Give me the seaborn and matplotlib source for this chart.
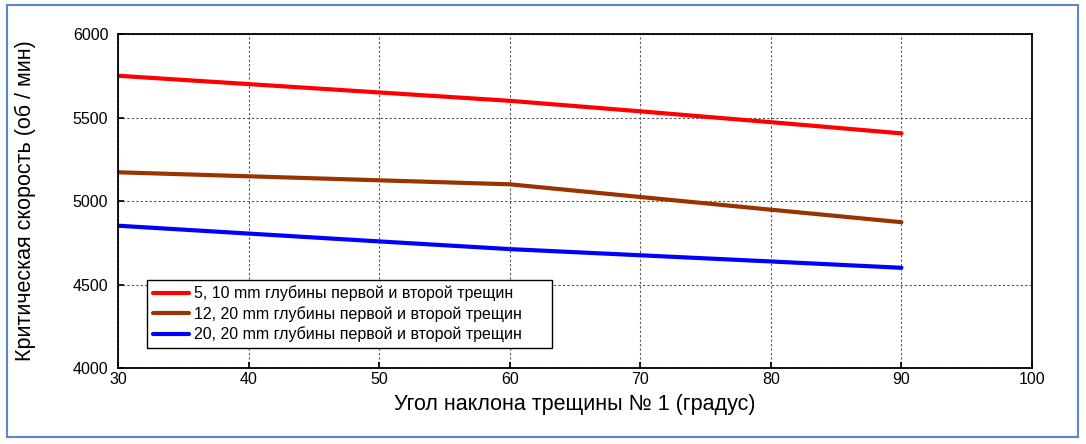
import matplotlib
matplotlib.use("Agg")
import matplotlib.pyplot as plt
import seaborn as sns
import pandas as pd
from matplotlib.patches import Rectangle

angles = [30, 40, 50, 60, 70, 80, 90]
red_vals = [5750, 5700, 5650, 5600, 5537, 5472, 5405]
brown_vals = [5172, 5148, 5124, 5100, 5024, 4948, 4873]
blue_vals = [4852, 4805, 4758, 4712, 4675, 4638, 4600]
labels = ["5, 10 mm глубины первой и второй трещин",
          "12, 20 mm глубины первой и второй трещин",
          "20, 20 mm глубины первой и второй трещин"]
colors = ["#ff0000", "#993300", "#0000ff"]
xticks = [30, 40, 50, 60, 70, 80, 90, 100]
yticks = [4000, 4500, 5000, 5500, 6000]

sns.set_theme(style="white")
plt.rcParams['font.family'] = ['Liberation Sans', 'DejaVu Sans']
plt.rcParams['text.color'] = 'black'
plt.rcParams['axes.labelcolor'] = 'black'
plt.rcParams['xtick.color'] = 'black'
plt.rcParams['ytick.color'] = 'black'

df = pd.DataFrame({
    "angle": angles * 3,
    "speed": red_vals + brown_vals + blue_vals,
    "series": [labels[0]] * 7 + [labels[1]] * 7 + [labels[2]] * 7,
})

fig = plt.figure(figsize=(10.86, 4.44), dpi=100)
ax = fig.add_axes([118 / 1086, 1 - 368 / 444, (1032 - 118) / 1086, (368 - 34) / 444])

sns.lineplot(data=df, x="angle", y="speed", hue="series", hue_order=labels,
             palette=colors, linewidth=3, ax=ax, legend=True)

ax.set_xlim(30, 100)
ax.set_ylim(4000, 6000)
ax.set_xticks(xticks)
ax.set_yticks(yticks)
ax.tick_params(axis="both", direction="in", labelsize=11.5, length=4, color="black",
               labelcolor="black", bottom=True, left=True, top=False, right=False)
ax.tick_params(axis="x", pad=3)
ax.tick_params(axis="y", pad=7)
ax.grid(True, linestyle=(0, (2, 2)), color="#555555", linewidth=0.8)
for s in ax.spines.values():
    s.set_color("black")
    s.set_linewidth(1.3)
ax.set_xlabel("Угол наклона трещины № 1 (градус)", fontsize=15.5, va="center", color="black")
ax.set_ylabel("Критическая скорость (об / мин)", fontsize=15.5, va="center", color="black")
ax.xaxis.set_label_coords(0.5, -0.11)
ax.yaxis.set_label_coords(-0.1017, 0.5)

leg = ax.legend(loc="lower left", bbox_to_anchor=(0.032, 0.06, 0.443, 0.3), mode="expand",
                fontsize=11.5, frameon=True, fancybox=False, framealpha=1, edgecolor="black",
                handlelength=2.25, handletextpad=0.3, borderpad=0.35, labelspacing=0.3,
                borderaxespad=0)
leg.get_frame().set_linewidth(1.0)
for t in leg.get_texts():
    t.set_color("black")

fig.patches.append(Rectangle((7 / 1086, 1 - 437 / 444), (1078 - 7) / 1086, (437 - 5) / 444,
                             transform=fig.transFigure, fill=False,
                             edgecolor="#5b86cf", linewidth=1.5))

fig.savefig("out.png", dpi=100, facecolor="white")
